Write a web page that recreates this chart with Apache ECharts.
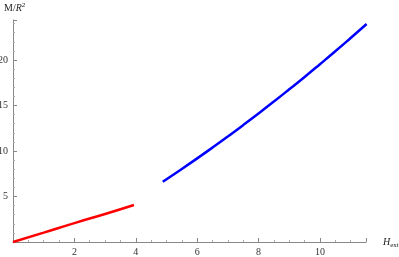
<!DOCTYPE html>
<html><head><meta charset="utf-8">
<script src="https://cdn.jsdelivr.net/npm/echarts@6/dist/echarts.min.js"></script>
<style>html,body{margin:0;padding:0;background:#fff}#c{width:399px;height:257px}</style>
</head><body><div id="c"></div>
<script>
const redX = [0, 1, 2, 3, 3.94];
const redY = [0, 1.03, 2.08, 3.08, 4.07];
const blueX = [4.88, 5.5, 6, 6.5, 7, 7.5, 8, 8.5, 9, 9.5, 10, 10.5, 11, 11.52];
const blueY = [6.63, 8.03, 9.19, 10.38, 11.6, 12.85, 14.13, 15.44, 16.78, 18.14, 19.54, 20.96, 22.42, 23.96];
const xTicks = [2, 4, 6, 8, 10];
const yTicks = [5, 10, 15, 20];

const font = 'Liberation Serif';
const chart = echarts.init(document.getElementById('c'), null, {renderer: 'canvas'});
const axisCommon = {
  axisLine: {show: true, lineStyle: {color: '#888', width: 1}},
  axisTick: {show: true, inside: true, length: 4, lineStyle: {color: '#888'}},
  splitLine: {show: false}
};
chart.setOption({
  animation: false,
  grid: {left: 13, right: 33, top: 20, bottom: 15, containLabel: false, outerBoundsMode: 'none'},
  xAxis: Object.assign({}, axisCommon, {
    type: 'value', min: 0, max: 11.5, interval: 2,
    minorTick: {show: true, splitNumber: 4, length: 2, lineStyle: {color: '#aaa'}},
    axisLabel: {fontFamily: font, fontSize: 10, color: '#333', margin: 5, showMaxLabel: false,
      formatter: v => xTicks.includes(v) ? String(v) : ''},
    name: '{i|H}{s|ext}', nameLocation: 'end', nameGap: 17,
    nameTextStyle: {rich: {i: {fontFamily: font, fontStyle: 'italic', fontSize: 10, color: '#222'},
      s: {fontFamily: font, fontSize: 7, color: '#222', verticalAlign: 'bottom', padding: [6, 0, 0, 0]}}}
  }),
  yAxis: Object.assign({}, axisCommon, {
    type: 'value', min: 0, max: 24.4, interval: 5,
    minorTick: {show: true, splitNumber: 5, length: 2, lineStyle: {color: '#aaa'}},
    axisLabel: {fontFamily: font, fontSize: 10, color: '#333', margin: 5, showMaxLabel: false,
      formatter: v => yTicks.includes(v) ? String(v) : ''},
    name: '{n|M/}{i|R}{s|2}', nameLocation: 'end', nameGap: 6,
    nameTextStyle: {align: 'left', padding: [0, 0, 0, -9], rich: {n: {fontFamily: font, fontSize: 10, color: '#222'},
      i: {fontFamily: font, fontStyle: 'italic', fontSize: 10, color: '#222'},
      s: {fontFamily: font, fontSize: 7, color: '#222', verticalAlign: 'top', padding: [0, 0, 5, 0]}}}
  }),
  series: [
    {type: 'line', data: redX.map((x, i) => [x, redY[i]]), symbol: 'none', smooth: true,
      lineStyle: {color: '#ff0000', width: 2.5}, clip: false},
    {type: 'line', data: blueX.map((x, i) => [x, blueY[i]]), symbol: 'none', smooth: true,
      lineStyle: {color: '#0000ff', width: 2.5}, clip: false}
  ]
});
</script></body></html>
